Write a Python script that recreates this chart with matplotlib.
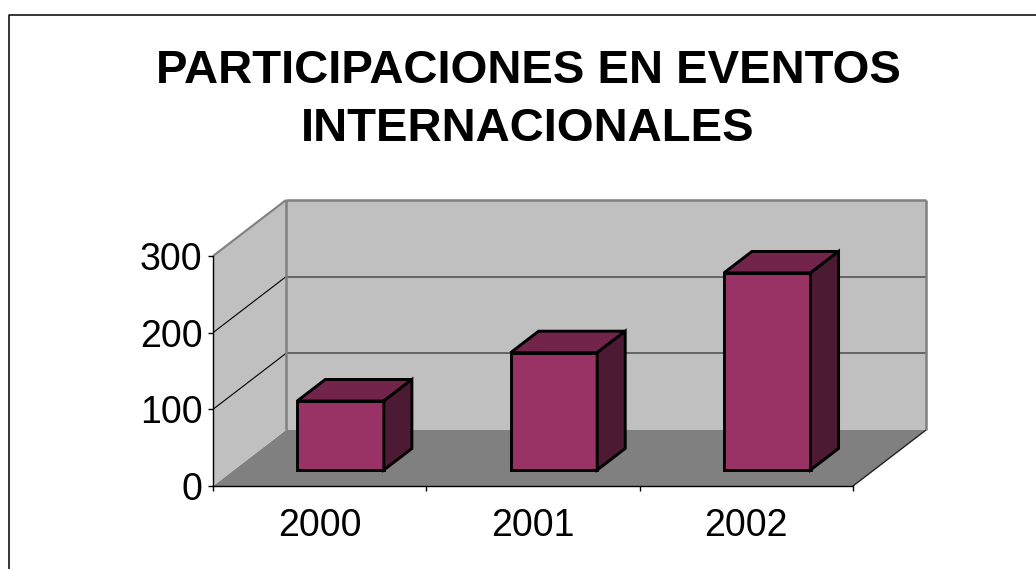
import matplotlib
matplotlib.use("Agg")
import matplotlib.pyplot as plt
from matplotlib.lines import Line2D

# Datos
anios = ["2000", "2001", "2002"]
participaciones = [90, 153, 257]
y_ticks = [0, 100, 200, 300]
titulo = ["PARTICIPACIONES EN EVENTOS", "INTERNACIONALES"]

plt.rcParams["font.family"] = ["Liberation Sans", "DejaVu Sans"]

W, H = 1036, 569
fig = plt.figure(figsize=(W / 100, H / 100), dpi=100)
fig.patch.set_facecolor("white")

# plano frontal del grafico 3D
ax = fig.add_axes([213 / W, (H - 486) / H, 640 / W, 230 / H])
n = len(anios)
ymax = y_ticks[-1]
ax.set_xlim(0, n)
ax.set_ylim(0, ymax)
ax.patch.set_visible(False)

# desplazamiento de profundidad (en unidades de datos)
DX = 73 / (640 / n)
DY = 56 / (230 / ymax)


def p(x, y, d):
    return (x + d * DX, y + d * DY)


def cara(pts, **kw):
    xs, ys = zip(*[p(*q) for q in pts])
    ax.fill(xs, ys, clip_on=False, **kw)


def linea(a, b, **kw):
    (x0, y0), (x1, y1) = p(*a), p(*b)
    ax.plot([x0, x1], [y0, y1], clip_on=False, solid_capstyle="butt", **kw)


# suelo y paredes
cara([(0, 0, 0), (n, 0, 0), (n, 0, 1), (0, 0, 1)], facecolor="#808080", edgecolor="none", zorder=1)
cara([(0, 0, 0), (0, 0, 1), (0, ymax, 1), (0, ymax, 0)], facecolor="#C0C0C0", edgecolor="none", zorder=1)
cara([(0, 0, 1), (n, 0, 1), (n, ymax, 1), (0, ymax, 1)], facecolor="#C0C0C0", edgecolor="none", zorder=1)

for v in y_ticks[1:-1]:
    linea((0, v, 1), (n, v, 1), color="#555555", lw=1.2, zorder=1.5)
    linea((0, v, 0), (0, v, 1), color="black", lw=0.8, zorder=1.5)

gris = "#808080"
linea((0, ymax, 0), (0, ymax, 1), color=gris, lw=1.5, zorder=1.6)
linea((0, ymax, 1), (n, ymax, 1), color=gris, lw=1.8, zorder=1.6)
linea((0, 0, 1), (0, ymax, 1), color=gris, lw=1.8, zorder=1.6)
linea((n, 0, 1), (n, ymax, 1), color=gris, lw=1.8, zorder=1.6)
linea((n, 0, 0), (n, 0, 1), color="#222222", lw=1.0, zorder=1.6)

# barras
BW = 0.406
D0, D1 = 0.286, 0.67
borde = dict(edgecolor="black", linewidth=2.1, joinstyle="miter", zorder=3)
for i, v in enumerate(participaciones):
    x0 = i + 0.5 - BW / 2
    x1 = x0 + BW
    cara([(x0, 0, D0), (x1, 0, D0), (x1, v, D0), (x0, v, D0)], facecolor="#993366", **borde)
    cara([(x0, v, D0), (x1, v, D0), (x1, v, D1), (x0, v, D1)], facecolor="#72244B", **borde)
    cara([(x1, 0, D0), (x1, 0, D1), (x1, v, D1), (x1, v, D0)], facecolor="#4C1A33", **borde)

# ejes
for s in ["top", "right"]:
    ax.spines[s].set_visible(False)
for s in ["left", "bottom"]:
    ax.spines[s].set_color("black")
    ax.spines[s].set_linewidth(1.0)
    ax.spines[s].set_zorder(2.5)

ax.set_yticks(y_ticks)
ax.set_yticklabels([str(t) for t in y_ticks])
ax.tick_params(axis="y", direction="out", length=3.6, width=1, labelsize=27, pad=4)

ax.set_xticks(range(n + 1))
ax.set_xticklabels([""] * (n + 1))
ax.set_xticks([i + 0.5 for i in range(n)], minor=True)
ax.set_xticklabels(anios, minor=True)
ax.tick_params(axis="x", which="major", direction="out", length=3.6, width=1)
ax.tick_params(axis="x", which="minor", length=0, labelsize=27, pad=16)

# titulo
fig.text(528 / W, 1 - 83 / H, titulo[0], ha="center", va="baseline",
         fontsize=34, fontweight="bold")
fig.text(528 / W, 1 - 141 / H, titulo[1], ha="center", va="baseline",
         fontsize=34, fontweight="bold")

# marco
fig.add_artist(Line2D([8.5 / W, 8.5 / W, 1.0], [0, 1 - 14.5 / H, 1 - 14.5 / H],
                      transform=fig.transFigure, color="black", lw=1.1))

fig.savefig("out.png", dpi=100)
